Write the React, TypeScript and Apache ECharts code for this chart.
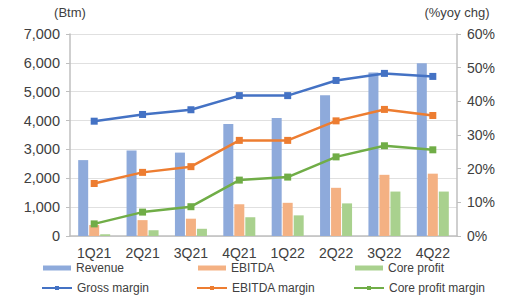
import React, { useEffect, useRef } from "react";
import * as echarts from "echarts";

const categories = ["1Q21", "2Q21", "3Q21", "4Q21", "1Q22", "2Q22", "3Q22", "4Q22"];
const revenue = [2630, 2960, 2890, 3880, 4090, 4880, 5670, 5990];
const ebitda = [380, 550, 600, 1100, 1150, 1670, 2120, 2160];
const coreProfit = [60, 200, 250, 650, 715, 1130, 1540, 1540];
const grossMargin = [34.1, 36.1, 37.5, 41.7, 41.7, 46.2, 48.3, 47.4];
const ebitdaMargin = [15.6, 18.9, 20.6, 28.4, 28.4, 34.2, 37.6, 35.8];
const coreProfitMargin = [3.6, 7.1, 8.7, 16.6, 17.5, 23.5, 26.8, 25.6];
const leftTicks = { min: 0, max: 7000, interval: 1000 };
const rightTicks = { min: 0, max: 60, interval: 10 };

const FONT = "Liberation Sans, Arial, sans-serif";

export default function App() {
  const ref = useRef<HTMLDivElement>(null);
  useEffect(() => {
    if (!ref.current) return;
    const chart = echarts.init(ref.current, null, { renderer: "svg" });
    const legendText = { fontSize: 12, color: "#404040", fontFamily: FONT };
    const mkLegend = (name: string, left: number, top: number, bar: boolean) => ({
      data: [name],
      left,
      top,
      itemWidth: bar ? 28 : 30,
      itemHeight: 5,
      itemGap: 0,
      textStyle: legendText,
      padding: 0,
      selectedMode: false,
      ...(bar ? { icon: "rect" } : { lineStyle: { width: 2 } }),
    });
    const lineSeries = (name: string, data: number[], color: string) => ({
      name,
      type: "line",
      yAxisIndex: 1,
      data,
      symbol: "rect",
      symbolSize: 7,
      lineStyle: { color, width: 2.5 },
      itemStyle: { color },
      z: 5,
    });
    chart.setOption({
      animation: false,
      textStyle: { fontFamily: FONT },
      grid: { left: 70, right: 50, top: 34, bottom: 62 },
      legend: [
        mkLegend("Revenue", 43, 262, true),
        mkLegend("EBITDA", 198, 262, true),
        mkLegend("Core profit", 355, 262, true),
        mkLegend("Gross margin", 41, 282, false),
        mkLegend("EBITDA margin", 196, 282, false),
        mkLegend("Core profit margin", 353, 282, false),
      ],
      xAxis: {
        type: "category",
        data: categories,
        axisLine: { lineStyle: { color: "#bfbfbf", width: 1.5 } },
        axisTick: { show: false },
        axisLabel: { fontSize: 14, color: "#404040", margin: 10, fontFamily: FONT },
      },
      yAxis: [
        {
          type: "value",
          ...leftTicks,
          name: "(Btm)",
          nameGap: 15,
          nameTextStyle: { fontSize: 13, color: "#404040", fontFamily: FONT },
          axisLine: { show: true, lineStyle: { color: "#bfbfbf", width: 1.5 } },
          axisTick: { show: true, length: 4, lineStyle: { color: "#bfbfbf" } },
          splitLine: { lineStyle: { color: "#e0e0e0" } },
          axisLabel: {
            fontSize: 14.5,
            color: "#404040",
            margin: 10,
            fontFamily: FONT,
            formatter: (v: number) => v.toLocaleString("en-US"),
          },
        },
        {
          type: "value",
          ...rightTicks,
          name: "(%yoy chg)",
          nameGap: 15,
          nameTextStyle: { fontSize: 13, color: "#404040", fontFamily: FONT },
          axisLine: { show: true, lineStyle: { color: "#bfbfbf", width: 1.5 } },
          axisTick: { show: true, length: 4, lineStyle: { color: "#bfbfbf" } },
          splitLine: { show: false },
          axisLabel: {
            fontSize: 14,
            color: "#404040",
            margin: 10,
            fontFamily: FONT,
            formatter: (v: number) => v + "%",
          },
        },
      ],
      series: [
        { name: "Revenue", type: "bar", data: revenue, barWidth: 10, barGap: "10%", itemStyle: { color: "#8eaadb" } },
        { name: "EBITDA", type: "bar", data: ebitda, barWidth: 10, barGap: "10%", itemStyle: { color: "#f4b183" } },
        { name: "Core profit", type: "bar", data: coreProfit, barWidth: 10, barGap: "10%", itemStyle: { color: "#a9d18e" } },
        lineSeries("Gross margin", grossMargin, "#4472c4"),
        lineSeries("EBITDA margin", ebitdaMargin, "#ed7d31"),
        lineSeries("Core profit margin", coreProfitMargin, "#70ad47"),
      ],
    });
    return () => chart.dispose();
  }, []);
  return <div ref={ref} style={{ width: 507, height: 298, position: "absolute", left: 0, top: 0 }} />;
}
